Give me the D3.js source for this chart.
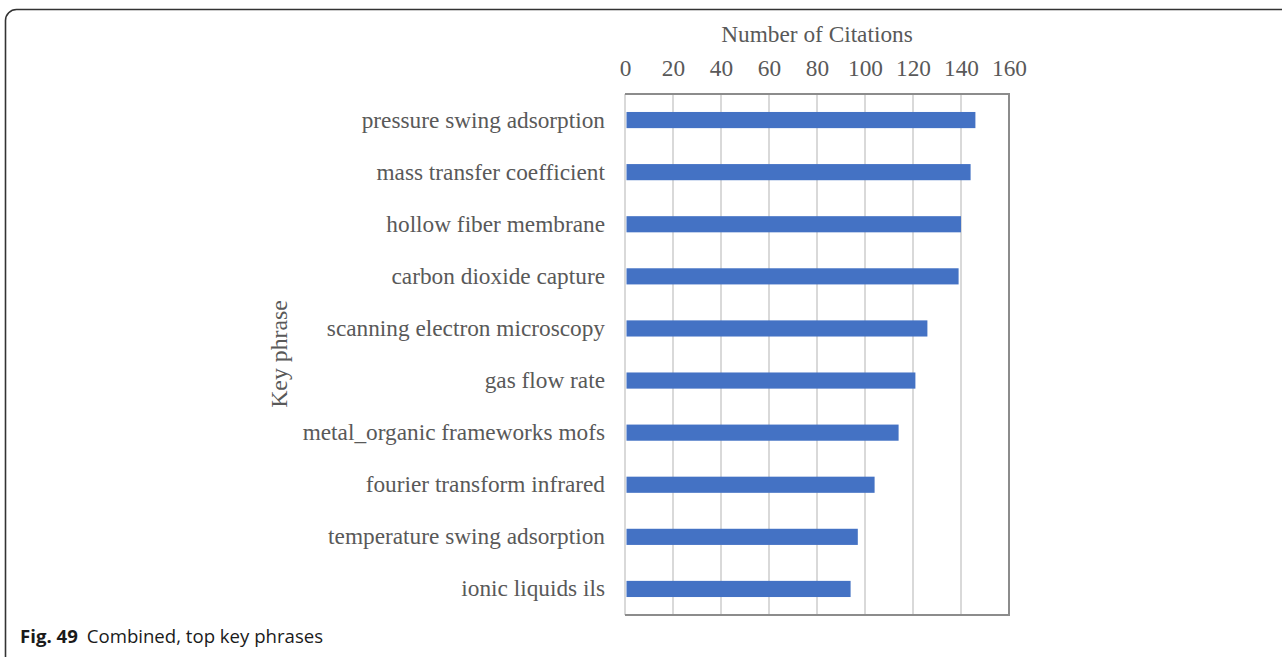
<!DOCTYPE html>
<html>
<head>
<meta charset="utf-8">
<script src="https://cdn.jsdelivr.net/npm/d3@7"></script>
<style>
  html, body { margin: 0; padding: 0; background: #fff; }
  svg { display: block; }
</style>
</head>
<body>
<script>
// Top key phrases by citation count
const phrases = [
  "pressure swing adsorption",
  "mass transfer coefficient",
  "hollow fiber membrane",
  "carbon dioxide capture",
  "scanning electron microscopy",
  "gas flow rate",
  "metal_organic frameworks mofs",
  "fourier transform infrared",
  "temperature swing adsorption",
  "ionic liquids ils"
];
const citations = [146, 144, 140, 139, 126, 121, 114, 104, 97, 94];
const tickValues = [0, 20, 40, 60, 80, 100, 120, 140, 160];

const W = 1282, H = 657;
const plot = { left: 625, right: 1009, top: 94, bottom: 615 };

const svg = d3.select("body").append("svg")
  .attr("width", W).attr("height", H);

// Panel frame with rounded top-left corner
svg.append("rect")
  .attr("x", 5.5).attr("y", 9.5)
  .attr("width", 1320).attr("height", 700)
  .attr("rx", 11)
  .attr("fill", "none")
  .attr("stroke", "#333")
  .attr("stroke-width", 1.6);

const x = d3.scaleLinear().domain([0, 160]).range([plot.left, plot.right]);
const y = d3.scaleBand().domain(phrases).range([plot.top, plot.bottom]).paddingInner(0.69).paddingOuter(0.345);

const serif = "'Liberation Serif', 'Times New Roman', serif";
const fs = 23.3;

// Vertical gridlines
svg.append("g").selectAll("line").data(tickValues).join("line")
  .attr("x1", d => x(d)).attr("x2", d => x(d))
  .attr("y1", plot.top).attr("y2", plot.bottom)
  .attr("stroke", "#d9d9d9").attr("stroke-width", 2);

// Bars
svg.append("g").selectAll("rect").data(phrases).join("rect")
  .attr("x", x(0) + 1.5)
  .attr("y", d => y(d))
  .attr("width", (d, i) => x(citations[i]) - x(0) - 1.5)
  .attr("height", y.bandwidth())
  .attr("fill", "#4472c4");

// Plot box outline (top, right, bottom)
svg.append("path")
  .attr("d", `M${plot.left},${plot.top}H${plot.right}V${plot.bottom}H${plot.left}`)
  .attr("fill", "none")
  .attr("stroke", "#8c8c8c")
  .attr("stroke-width", 2);

// Top value axis
const xAxis = d3.axisTop(x).tickValues(tickValues).tickSize(0).tickPadding(0);
const gx = svg.append("g").attr("transform", `translate(0,${plot.top - 18})`).call(xAxis);
gx.select(".domain").remove();
gx.selectAll("text")
  .attr("font-family", serif).attr("font-size", fs).attr("fill", "#595959");

// Category axis
const yAxis = d3.axisLeft(y).tickSize(0).tickPadding(20);
const gy = svg.append("g").attr("transform", `translate(${plot.left},0)`).call(yAxis);
gy.select(".domain").remove();
gy.selectAll("text")
  .attr("font-family", serif).attr("font-size", fs).attr("fill", "#595959");

// Axis titles
svg.append("text")
  .attr("x", 817).attr("y", 42)
  .attr("text-anchor", "middle")
  .attr("font-family", serif).attr("font-size", fs).attr("fill", "#595959")
  .text("Number of Citations");

svg.append("text")
  .attr("transform", "translate(287,354) rotate(-90)")
  .attr("text-anchor", "middle")
  .attr("font-family", serif).attr("font-size", 23.8).attr("fill", "#595959")
  .text("Key phrase");

// Caption
const cap = svg.append("text")
  .attr("x", 20).attr("y", 643)
  .attr("font-family", "'Open Sans', 'Noto Sans', sans-serif")
  .attr("font-size", 18.6).attr("fill", "#1a1a1a");
cap.append("tspan").attr("font-weight", "bold").text("Fig. 49");
cap.append("tspan").attr("dx", 9).text("Combined, top key phrases");
</script>
</body>
</html>
